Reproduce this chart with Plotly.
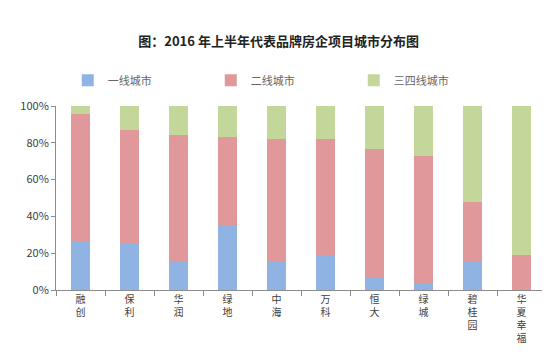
import plotly.graph_objects as go

companies = ["融创", "保利", "华润", "绿地", "中海", "万科", "恒大", "绿城", "碧桂园", "华夏幸福"]
tier1 = [26, 25, 15, 35, 15, 19, 6.5, 4, 16, 0]
tier2 = [69.5, 62, 69, 48, 67, 63, 70, 69, 32, 19]
tier34 = [4.5, 13, 16, 17, 18, 18, 23.5, 27, 52, 81]
series_names = ["一线城市", "二线城市", "三四线城市"]
y_ticks = [0, 20, 40, 60, 80, 100]
y_tick_labels = ["0%", "20%", "40%", "60%", "80%", "100%"]

colors = ["#8FB4E3", "#E0989B", "#C4D79B"]
tick_text = ["<br>".join(list(c)) for c in companies]
font_family = "Noto Sans CJK SC, Noto Sans, sans-serif"

fig = go.Figure()
for name, vals, col in zip(series_names, [tier1, tier2, tier34], colors):
    fig.add_trace(go.Bar(x=companies, y=vals, name=name, marker=dict(color=col, line=dict(width=0)),
                         width=0.39))

fig.update_layout(
    barmode="stack",
    width=550, height=355,
    margin=dict(l=48, r=12, t=98, b=73),
    paper_bgcolor="white", plot_bgcolor="white",
    font=dict(family=font_family, color="#595959", size=11),
    title=dict(text="<b>图：2016 年上半年代表品牌房企项目城市分布图</b>",
               x=0.492, xanchor="center", y=0.907, yanchor="middle",
               font=dict(size=13, color="#222222", family=font_family)),
    legend=dict(orientation="h", x=0.024, xanchor="left", y=1.14, yanchor="middle",
                entrywidth=98, entrywidthmode="pixels", itemwidth=30,
                font=dict(size=11, color="#666666"), traceorder="normal"),
    showlegend=True,
)
fig.update_xaxes(
    tickmode="array", tickvals=companies, ticktext=tick_text,
    showline=True, linecolor="#8C8C8C", linewidth=1,
    ticks="outside", tickson="boundaries", ticklen=5, tickcolor="#8C8C8C",
    tickfont=dict(size=10, color="#404040", family="Liberation Sans, Noto Sans CJK SC, sans-serif"),
    showgrid=False, tickangle=0,
)
fig.update_yaxes(
    range=[0, 100], tickvals=y_ticks, ticktext=y_tick_labels,
    showline=True, linecolor="#8C8C8C", linewidth=1,
    ticks="outside", ticklen=4, tickcolor="#8C8C8C",
    showgrid=False, zeroline=False, tickfont=dict(size=11, color="#404040"),
)

fig.write_html("out.html")
